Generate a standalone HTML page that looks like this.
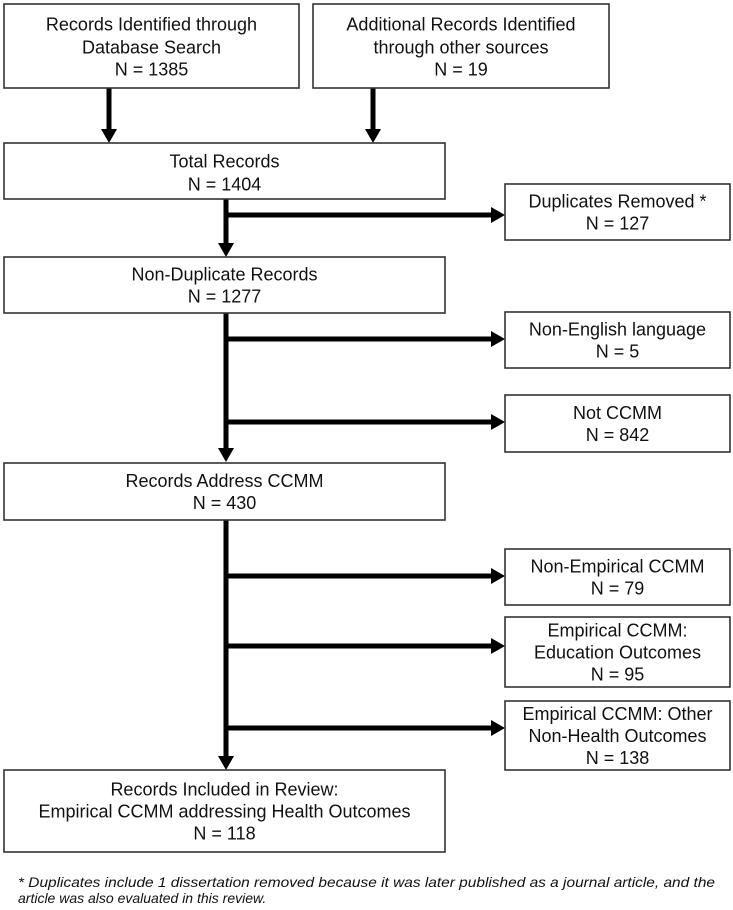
<!DOCTYPE html>
<html><head><meta charset="utf-8"><style>
html,body{margin:0;padding:0;background:#fff;}
svg{display:block;}
text{font-family:"Liberation Sans",Arial,sans-serif;font-size:18px;fill:#111;text-anchor:middle;}
.fn{font-style:italic;font-size:14px;text-anchor:start;}
rect{fill:#fff;stroke:#333;stroke-width:1.6;}
line{stroke:#000;stroke-width:5;}
polygon{fill:#000;}
</style></head><body>
<svg width="733" height="910" viewBox="0 0 733 910" xmlns="http://www.w3.org/2000/svg">
<!-- connectors -->
<line x1="109" y1="88" x2="109" y2="131"/><polygon points="101,129 117,129 109,143"/>
<line x1="373" y1="88" x2="373" y2="131"/><polygon points="365,129 381,129 373,143"/>
<line x1="226" y1="199" x2="226" y2="245"/><polygon points="218,243 234,243 226,257"/>
<line x1="226" y1="313" x2="226" y2="450"/><polygon points="218,448 234,448 226,462"/>
<line x1="226" y1="520" x2="226" y2="758"/><polygon points="218,756 234,756 226,770"/>
<line x1="224" y1="215" x2="493" y2="215"/><polygon points="491,207 491,223 505,215"/>
<line x1="224" y1="339" x2="493" y2="339"/><polygon points="491,331 491,347 505,339"/>
<line x1="224" y1="422" x2="493" y2="422"/><polygon points="491,414 491,430 505,422"/>
<line x1="224" y1="576" x2="493" y2="576"/><polygon points="491,568 491,584 505,576"/>
<line x1="224" y1="646" x2="493" y2="646"/><polygon points="491,638 491,654 505,646"/>
<line x1="224" y1="728" x2="493" y2="728"/><polygon points="491,720 491,736 505,728"/>
<!-- boxes -->
<rect x="4" y="4" width="295" height="84"/>
<text x="151.5" y="30.5">Records Identified through</text>
<text x="151.5" y="53.5">Database Search</text>
<text x="151.5" y="75.5">N = 1385</text>
<rect x="313" y="4" width="296" height="84"/>
<text x="461" y="30.5">Additional Records Identified</text>
<text x="461" y="53.5">through other sources</text>
<text x="461" y="75.5">N = 19</text>
<rect x="4" y="143" width="441" height="56"/>
<text x="224.5" y="167.5">Total Records</text>
<text x="224.5" y="190.5">N = 1404</text>
<rect x="505" y="184" width="225" height="56"/>
<text x="617.5" y="207.5">Duplicates Removed *</text>
<text x="617.5" y="229.5">N = 127</text>
<rect x="4" y="257" width="441" height="56"/>
<text x="224.5" y="280.5">Non-Duplicate Records</text>
<text x="224.5" y="302.5">N = 1277</text>
<rect x="505" y="312" width="225" height="56"/>
<text x="617.5" y="335.5">Non-English language</text>
<text x="617.5" y="357.5">N = 5</text>
<rect x="505" y="395" width="225" height="57"/>
<text x="617.5" y="419">Not CCMM</text>
<text x="617.5" y="441">N = 842</text>
<rect x="4" y="463" width="441" height="57"/>
<text x="224.5" y="487">Records Address CCMM</text>
<text x="224.5" y="509">N = 430</text>
<rect x="505" y="549" width="225" height="56"/>
<text x="617.5" y="572.5">Non-Empirical CCMM</text>
<text x="617.5" y="594.5">N = 79</text>
<rect x="505" y="617" width="225" height="70"/>
<text x="617.5" y="636.5">Empirical CCMM:</text>
<text x="617.5" y="658.5">Education Outcomes</text>
<text x="617.5" y="680.5">N = 95</text>
<rect x="505" y="701" width="225" height="69"/>
<text x="617.5" y="720">Empirical CCMM: Other</text>
<text x="617.5" y="742">Non-Health Outcomes</text>
<text x="617.5" y="764">N = 138</text>
<rect x="4" y="770" width="441" height="82"/>
<text x="224.5" y="795.5">Records Included in Review:</text>
<text x="224.5" y="817.5">Empirical CCMM addressing Health Outcomes</text>
<text x="224.5" y="839.5">N = 118</text>
<!-- footnote -->
<text class="fn" x="18" y="887" textLength="697" lengthAdjust="spacingAndGlyphs">* Duplicates include 1 dissertation removed because it was later published as a journal article, and the</text>
<text class="fn" x="18" y="903">article was also evaluated in this review.</text>
</svg>
</body></html>
